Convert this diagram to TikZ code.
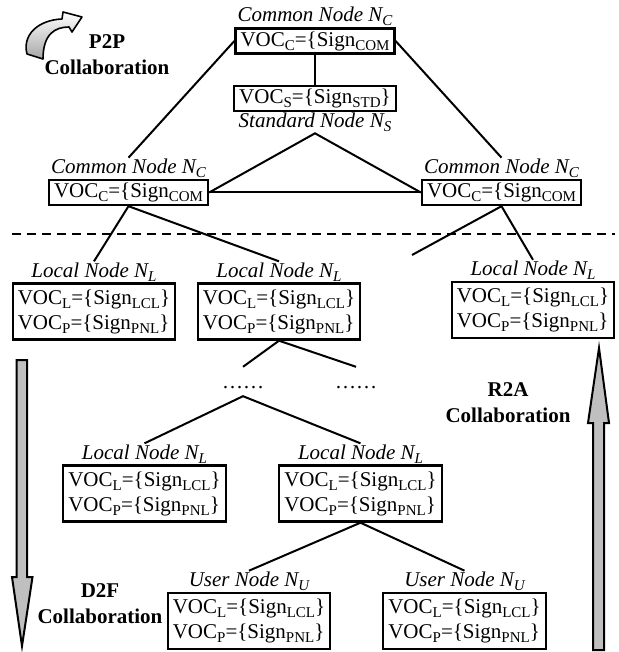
\documentclass[tikz,border=0pt]{standalone}
\usepackage{fontspec}
\setmainfont{Liberation Serif}
\newcommand\sbs[1]{\raisebox{-4pt}{\fontsize{15}{15}\selectfont #1}}
\begin{document}
\begin{tikzpicture}[x=1pt,y=-1pt,
  box/.style={draw,line width=2.3pt,inner xsep=5pt,inner ysep=3pt,align=left,font=\fontsize{21}{25}\selectfont},
  box2/.style={box,inner ysep=6pt},
  ttl/.style={inner sep=1pt,font=\fontsize{21}{25}\selectfont\itshape},
  conn/.style={line width=2pt},
  lab/.style={align=center,font=\fontsize{21}{26}\selectfont\bfseries},
  dots/.style={inner sep=0pt,text height=21pt,text depth=8pt,anchor=base,font=\fontsize{21}{25}\selectfont},
  bigarrow/.style={draw,line width=2pt,fill=black!25,line join=miter}]
\useasboundingbox (0,0) rectangle (618,652);

% common / standard nodes
\node[box] (topC) at (315,41) {VOC\sbs{C}=\{Sign\sbs{COM}};
\node[ttl,anchor=south] (topCt) at (topC.north) {Common Node N\sbs{C}};
\node[box] (stdS) at (315,98.5) {VOC\sbs{S}=\{Sign\sbs{STD}\}};
\node[ttl,anchor=north] (stdSt) at (stdS.south) {Standard Node N\sbs{S}};
\node[box] (leftC) at (128.5,192.5) {VOC\sbs{C}=\{Sign\sbs{COM}};
\node[ttl,anchor=south] (leftCt) at (leftC.north) {Common Node N\sbs{C}};
\node[box] (rightC) at (501.5,192.5) {VOC\sbs{C}=\{Sign\sbs{COM}};
\node[ttl,anchor=south] (rightCt) at (rightC.north) {Common Node N\sbs{C}};

% local nodes
\node[box2] (L1) at (94,311.5) {VOC\sbs{L}=\{Sign\sbs{LCL}\}\\VOC\sbs{P}=\{Sign\sbs{PNL}\}};
\node[ttl,anchor=south] (L1t) at (L1.north) {Local Node N\sbs{L}};
\node[box2] (L2) at (279,311.5) {VOC\sbs{L}=\{Sign\sbs{LCL}\}\\VOC\sbs{P}=\{Sign\sbs{PNL}\}};
\node[ttl,anchor=south] (L2t) at (L2.north) {Local Node N\sbs{L}};
\node[box2] (L3) at (533,310) {VOC\sbs{L}=\{Sign\sbs{LCL}\}\\VOC\sbs{P}=\{Sign\sbs{PNL}\}};
\node[ttl,anchor=south] (L3t) at (L3.north) {Local Node N\sbs{L}};

\node[dots] (d1) at (243,388) {……};
\node[dots] (d2) at (356,388) {……};

\node[box2] (L4) at (144.5,493.5) {VOC\sbs{L}=\{Sign\sbs{LCL}\}\\VOC\sbs{P}=\{Sign\sbs{PNL}\}};
\node[ttl,anchor=south] (L4t) at (L4.north) {Local Node N\sbs{L}};
\node[box2] (L5) at (360.5,493.5) {VOC\sbs{L}=\{Sign\sbs{LCL}\}\\VOC\sbs{P}=\{Sign\sbs{PNL}\}};
\node[ttl,anchor=south] (L5t) at (L5.north) {Local Node N\sbs{L}};

% user nodes
\node[box2] (U1) at (249,621) {VOC\sbs{L}=\{Sign\sbs{LCL}\}\\VOC\sbs{P}=\{Sign\sbs{PNL}\}};
\node[ttl,anchor=south] (U1t) at (U1.north) {User Node N\sbs{U}};
\node[box2] (U2) at (464.5,621) {VOC\sbs{L}=\{Sign\sbs{LCL}\}\\VOC\sbs{P}=\{Sign\sbs{PNL}\}};
\node[ttl,anchor=south] (U2t) at (U2.north) {User Node N\sbs{U}};

% connectors
\draw[conn] (topC) -- (stdS);
\draw[conn] (topC.west) -- (leftCt.north);
\draw[conn] (topC.east) -- (rightCt.north);
\draw[conn] (leftC.east) -- (stdSt.south) -- (rightC.west);
\draw[conn] (leftC.east) -- (rightC.west);
\draw[conn] (L1t.north) -- (leftC.south) -- (L2t.north);
\coordinate (loose) at (412,255);
\draw[conn] (loose) -- (rightC.south) -- (L3t.north);
\draw[conn] (d1.north) -- (L2.south) -- (d2.north);
\draw[conn] (L4t.north) -- (d1.south) -- (L5t.north);
\draw[conn] (U1t.north) -- (L5.south) -- (U2t.north);

% dashed separator
\draw[conn,dash pattern=on 9pt off 6pt] (12,234) -- (615,234);

% collaboration labels
\node[lab] (p2p) at (107,55) {P2P\\Collaboration};
\node[lab] (r2a) at (508,403) {R2A\\Collaboration};
\node[lab] (d2f) at (100,604) {D2F\\Collaboration};

% P2P curved arrow icon
\draw[line width=1.6pt,line join=round,top color=white,bottom color=black!35]
  (27,54) .. controls (22,35) and (38,20) .. (62,19) -- (63,12) -- (82,17)
  -- (72,32) -- (69,27) .. controls (55,27) and (43,34) .. (43,59) -- cycle;

% big arrows
\draw[bigarrow] (16.5,360) -- (27,360) -- (27,577) -- (32.5,577) -- (22,646)
  -- (12,577) -- (16.5,577) -- cycle;
\draw[bigarrow] (593,650) -- (604,650) -- (604,423) -- (609,423) -- (599,348)
  -- (588,423) -- (593,423) -- cycle;
\end{tikzpicture}
\end{document}
